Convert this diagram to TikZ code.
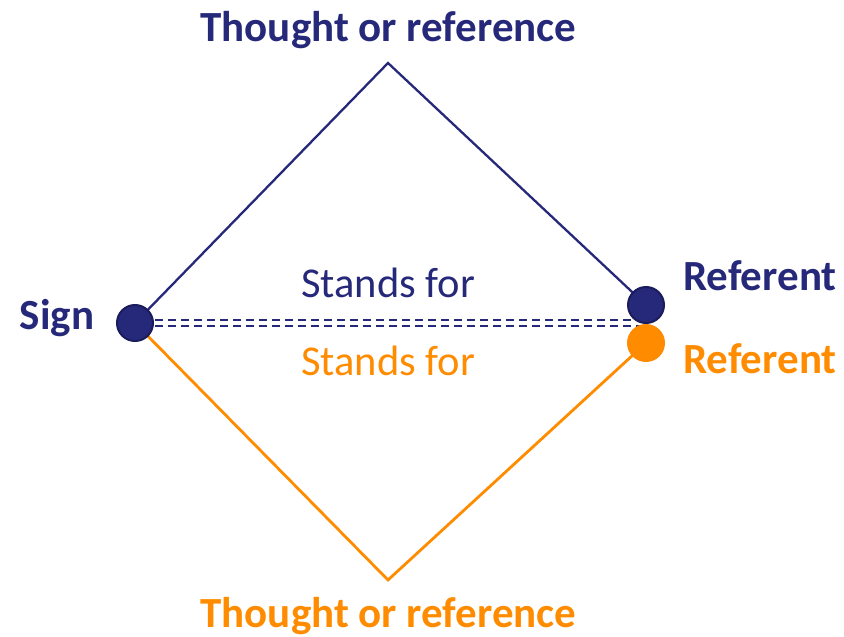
\documentclass[tikz,border=0pt]{standalone}
\usepackage{fontspec}
\setmainfont{Carlito}
\usetikzlibrary{positioning,calc,backgrounds}
\definecolor{tnavy}{HTML}{26297A}
\definecolor{tnavyedge}{HTML}{1A1C5C}
\definecolor{torange}{HTML}{FF8C00}
\tikzset{
  navydot/.style   = {circle, draw=tnavyedge, line width=2pt, fill=tnavy,
                      inner sep=0pt, minimum size=36pt},
  orangedot/.style = {circle, fill=torange, inner sep=0pt, minimum size=38pt},
  headtext/.style  = {font=\fontsize{43}{51}\selectfont\bfseries,
                      inner sep=0pt, anchor=base},
  plaintext/.style = {font=\fontsize{42.5}{51}\selectfont,
                      inner sep=0pt, anchor=base},
  side/.style      = {line width=2.3pt, line join=miter},
  standsfor/.style = {line width=2.4pt, tnavy, dash pattern=on 8pt off 5pt},
}
\begin{document}
\begin{tikzpicture}[x=1pt,y=-1pt]
\useasboundingbox (0,0) rectangle (844,637);
% the three corners
\node[navydot] (sign) at (135,323) {};
\node[navydot] (refnavy) at (646,305) {};
\node[orangedot] (reforange) at (646,343) {};
\coordinate (thoughtnavy) at (388,63);
\coordinate (thoughtorange) at (388,580);
% sides, kept under the dots
\begin{scope}[on background layer]
\draw[side,tnavy] (sign.center) -- (thoughtnavy) -- (refnavy.center);
\draw[side,torange,line width=2.8pt] (sign.center) -- (thoughtorange) -- (reforange.center);
\draw[standsfor] ($(sign.center)+(20,-3)$) -- ($(sign.center)+(506,-3)$);
\draw[standsfor] ($(sign.center)+(20,3)$) -- ($(sign.center)+(506,3)$);
\end{scope}
% labels
\node[headtext,tnavy] (topref) at (388.5,41.5) {Thought or reference};
\node[headtext,torange] (botref) at (388.5,627.5) {Thought or reference};
\node[headtext,tnavy] (signtext) at (57,329) {Sign};
\node[headtext,tnavy,anchor=base west] (reftextnavy) at (683,290) {Referent};
\node[headtext,torange,anchor=base west] (reftextorange) at (683,373) {Referent};
\node[plaintext,tnavy] (standsnavy) at (388,297) {Stands for};
\node[plaintext,torange] (standsorange) at (388,375) {Stands for};
\end{tikzpicture}
\end{document}
